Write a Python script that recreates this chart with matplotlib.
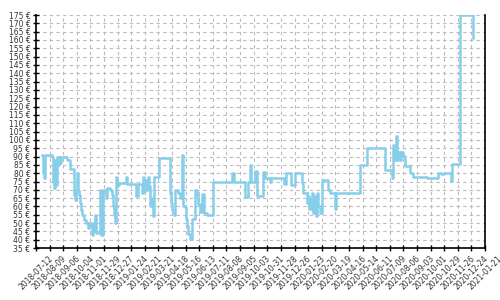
import numpy as np
import pandas as pd
import matplotlib
matplotlib.use('Agg')
import matplotlib.pyplot as plt
import matplotlib.dates as mdates
from matplotlib.ticker import FixedLocator, FuncFormatter

# price history (step data)
priceDates = ['2018-07-25', '2018-07-27', '2018-07-29', '2018-07-31', '2018-08-14', '2018-08-16',
              '2018-08-18', '2018-08-20', '2018-08-22', '2018-08-24', '2018-08-26', '2018-08-28',
              '2018-08-30', '2018-09-01', '2018-09-14', '2018-09-20', '2018-09-28', '2018-09-30',
              '2018-10-02', '2018-10-04', '2018-10-06', '2018-10-08', '2018-10-11', '2018-10-13',
              '2018-10-15', '2018-10-19', '2018-10-23', '2018-10-27', '2018-10-29', '2018-11-02',
              '2018-11-04', '2018-11-06', '2018-11-08', '2018-11-10', '2018-11-12', '2018-11-21',
              '2018-11-23', '2018-11-27', '2018-12-03', '2018-12-05', '2018-12-11', '2018-12-15',
              '2018-12-17', '2018-12-20', '2018-12-22', '2018-12-24', '2018-12-26', '2018-12-30',
              '2019-01-13', '2019-01-15', '2019-02-03', '2019-02-07', '2019-02-15', '2019-02-17',
              '2019-02-19', '2019-02-21', '2019-02-23', '2019-02-27', '2019-03-02', '2019-03-04',
              '2019-03-06', '2019-03-08', '2019-03-10', '2019-03-12', '2019-03-22', '2019-04-14',
              '2019-04-16', '2019-04-18', '2019-04-22', '2019-04-24', '2019-04-30', '2019-05-04',
              '2019-05-08', '2019-05-10', '2019-05-15', '2019-05-17', '2019-05-19', '2019-05-21',
              '2019-05-25', '2019-05-29', '2019-06-04', '2019-06-08', '2019-06-10', '2019-06-15',
              '2019-06-19', '2019-06-23', '2019-06-29', '2019-07-11', '2019-08-19', '2019-08-23',
              '2019-09-15', '2019-09-21', '2019-09-25', '2019-09-28', '2019-10-06', '2019-10-10',
              '2019-10-22', '2019-10-26', '2019-11-06', '2019-11-08', '2019-12-04', '2019-12-09',
              '2019-12-19', '2019-12-27', '2020-01-10', '2020-01-12', '2020-01-21', '2020-01-23',
              '2020-01-25', '2020-01-29', '2020-01-31', '2020-02-02', '2020-02-06', '2020-02-08',
              '2020-02-10', '2020-02-12', '2020-02-16', '2020-02-21', '2020-03-04', '2020-03-08',
              '2020-03-18', '2020-03-20', '2020-05-09', '2020-05-23', '2020-06-29', '2020-07-14',
              '2020-07-16', '2020-07-20', '2020-07-22', '2020-07-24', '2020-07-26', '2020-07-30',
              '2020-08-01', '2020-08-05', '2020-08-09', '2020-08-20', '2020-08-26', '2020-09-24',
              '2020-10-16', '2020-10-22', '2020-10-29', '2020-11-12', '2020-11-14', '2020-12-01',
              '2020-12-27']
prices = [91, 80, 77, 91, 90, 75,
          71, 88, 73, 90, 85, 90,
          86, 90, 88, 82.5, 67, 64,
          70, 80, 70, 67, 62, 58,
          55, 52, 50, 47, 50, 48,
          43, 50, 45, 55, 44, 70,
          43, 70, 65, 71, 70, 67,
          60, 55, 50, 78, 73, 74,
          78, 73.5, 66, 73.5, 68, 78,
          69, 76, 70, 78, 72, 60,
          65, 60, 54, 78, 89, 68,
          62, 58, 55, 70, 68, 65,
          91, 60, 59.5, 52.5, 48.5, 43.5,
          40.5, 52.5, 70, 67, 61.5, 56.5,
          67.5, 56, 55, 75, 80, 75,
          65.5, 75, 85, 75, 81.5, 66,
          81, 77, 75, 77, 73.5, 80,
          73, 80, 74, 68, 62, 66,
          58.5, 64, 68, 56, 66, 54.5,
          68, 60, 56, 76, 70, 68,
          58.5, 68, 85, 95, 82, 77,
          97, 88, 102.5, 88, 92.5, 88,
          92.5, 90.5, 84.5, 80, 77.5, 77,
          80, 79.5, 80, 75.5, 85.5, 175,
          161]

xStart = '2018-07-12'
xEnd = '2021-01-21'
yMin = 35
yMax = 175

dates = pd.to_datetime(priceDates)
tickDates = pd.date_range(xStart, xEnd, freq='28D')

fig = plt.figure(figsize=(5, 3), dpi=100)
ax = fig.add_axes([0.072, 0.173, 0.898, 0.777])

ax.plot(dates, prices, drawstyle='steps-post', color='#87ceeb', lw=1.8, zorder=3)

ax.set_xlim(pd.Timestamp(xStart), pd.Timestamp(xEnd))
ax.set_ylim(yMin, yMax)
ax.xaxis.set_major_locator(FixedLocator(mdates.date2num(tickDates)))
ax.xaxis.set_major_formatter(mdates.DateFormatter('%Y-%m-%d'))
ax.yaxis.set_major_locator(FixedLocator(np.arange(yMin, yMax + 1, 5)))
ax.yaxis.set_major_formatter(FuncFormatter(lambda v, p: '%d €' % v))

ax.grid(True, color='#bbbbbb', linestyle=(0, (3, 3)), linewidth=0.8, zorder=0)
ax.spines['top'].set_visible(False)
for s in ['left', 'bottom', 'right']:
    ax.spines[s].set_linewidth(1.2)
ax.tick_params(axis='both', direction='inout', length=5, width=1.0,
               labelsize=5.5, labelcolor='#333333', pad=1.5)
ax.tick_params(axis='y', right=False)
plt.setp(ax.get_xticklabels(), rotation=45)

fig.savefig('out.png', dpi=100)
